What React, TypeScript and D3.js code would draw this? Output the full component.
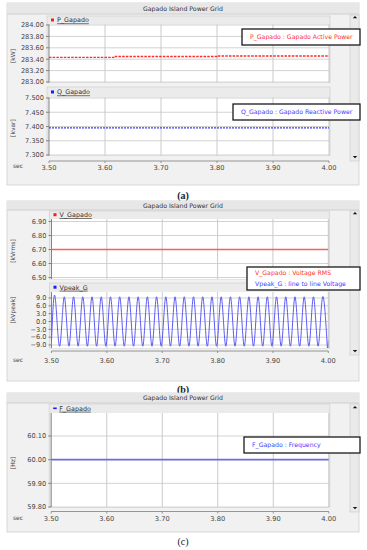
import React from "react";
import * as d3 from "d3";

// shared time axis
const timeTicks = [3.5, 3.6, 3.7, 3.8, 3.9, 4.0];

// (a) active power, kW
const pTime = [3.5, 3.617, 3.8, 4.0];
const pValues = [283.432, 283.447, 283.456, 283.456];
const pTicks = [283.0, 283.2, 283.4, 283.6, 283.8, 284.0];

// (a) reactive power, kvar
const qTime = [3.5, 4.0];
const qValues = [7.395, 7.395];
const qTicks = [7.3, 7.35, 7.4, 7.45, 7.5];

// (b) RMS voltage, kVrms
const vTime = [3.5, 4.0];
const vValues = [6.7, 6.7];
const vTicks = [6.5, 6.6, 6.7, 6.8, 6.9];

// (b) line to line voltage, kVpeak: value at the edges plus every peak / trough
const vpeakStartValue = -7.3;
const vpeakEndValue = -7.3;
const vpeakFirstPeak = 3.5065;
const vpeakHalfPeriod = 1 / 120;
const vpeakExtrema = [
  9.46, -9.46, 9.46, -9.46, 9.46, -9.46, 9.46, -9.46, 9.46, -9.46,
  9.46, -9.46, 9.46, -9.46, 9.46, -9.46, 9.46, -9.46, 9.46, -9.46,
  9.46, -9.46, 9.46, -9.46, 9.46, -9.46, 9.46, -9.46, 9.46, -9.46,
  9.46, -9.46, 9.46, -9.46, 9.46, -9.46, 9.46, -9.46, 9.46, -9.46,
  9.46, -9.46, 9.46, -9.46, 9.46, -9.46, 9.46, -9.46, 9.46, -9.46,
  9.46, -9.46, 9.46, -9.46, 9.46, -9.46, 9.46, -9.46, 9.46, -9.46,
];
const vpeakTicks = [-9, -6, -3, 0, 3, 6, 9];

// (c) frequency, Hz
const fTime = [3.5, 4.0];
const fValues = [60.0, 60.0];
const fTicks = [59.8, 59.9, 60.0, 60.1];

const FONT = "DejaVu Sans, Verdana, sans-serif";
const RED = "#ff2a2a";
const BLUE = "#3a3aff";

type Pt = [number, number];
type Series = { pts: Pt[]; color: string; width: number; dash?: string; curve?: d3.CurveFactory };

const zip = (t: number[], v: number[]): Pt[] => t.map((d, i) => [d, v[i]]);

function Subplot(props: {
  x: d3.ScaleLinear<number, number>;
  y: d3.ScaleLinear<number, number>;
  headerTop: number;
  top: number;
  bottom: number;
  ticks: number[];
  fmt: string;
  series: Series[];
  label: string;
  labelColor: string;
  ylabel: string;
  ylabelY: number;
  dashMark?: boolean;
}) {
  const { x, y, headerTop, top, bottom, ticks, fmt, series, label, labelColor, ylabel, ylabelY } = props;
  const [x0, x1] = x.range();
  const f = d3.format(fmt);
  const line = (s: Series) =>
    d3
      .line<Pt>()
      .x((d) => x(d[0]))
      .y((d) => y(d[1]))
      .curve(s.curve ?? d3.curveStepAfter)(s.pts) ?? "";
  const clipId = "clip" + Math.round(top);
  return (
    <g>
      <rect x={x0 - 2} y={headerTop} width={x1 - x0 + 3} height={bottom - headerTop} fill="#ebebeb" stroke="#d2d2d2" strokeWidth={0.8} />
      <rect x={x0} y={top} width={x1 - x0} height={bottom - top} fill="#ffffff" />
      <clipPath id={clipId}>
        <rect x={x0} y={top} width={x1 - x0} height={bottom - top} />
      </clipPath>
      {timeTicks.slice(1, -1).map((t) => (
        <line key={t} x1={x(t)} x2={x(t)} y1={top} y2={bottom} stroke="#bdbdbd" strokeWidth={0.8} />
      ))}
      {ticks.map((v) => (
        <line key={v} x1={x0} x2={x1} y1={y(v)} y2={y(v)} stroke="#c6c6c6" strokeWidth={0.8} />
      ))}
      <line x1={x1} x2={x1} y1={top} y2={bottom} stroke="#bdbdbd" strokeWidth={0.8} />
      <line x1={x0} x2={x0} y1={top} y2={bottom} stroke="#777" strokeWidth={0.9} />
      {ticks.map((v) => (
        <g key={"t" + v}>
          <line x1={x0 - 3} x2={x0} y1={y(v)} y2={y(v)} stroke="#777" strokeWidth={0.9} />
          <text x={x0 - 5} y={y(v)} dy="0.35em" textAnchor="end" fontSize={6.6} fill="#444" fontFamily={FONT}>
            {f(v)}
          </text>
        </g>
      ))}
      <g clipPath={`url(#${clipId})`}>
        {series.map((s, i) => (
          <path key={i} d={line(s)} fill="none" stroke={s.color} strokeWidth={s.width} strokeDasharray={s.dash} />
        ))}
      </g>
      {props.dashMark ? (
        <rect x={x0 + 2} y={(headerTop + top) / 2 - 1} width={3.5} height={1.6} fill={labelColor} />
      ) : (
        <rect x={x0 + 2} y={(headerTop + top) / 2 - 1.8} width={3} height={3} fill={labelColor} />
      )}
      <text x={x0 + 8} y={(headerTop + top) / 2} dy="0.35em" fontSize={6.4} fill="#333" fontFamily={FONT} style={{ textDecoration: "underline" }}>
        {label}
      </text>
      <text transform={`translate(13,${ylabelY}) rotate(-90)`} textAnchor="middle" dy="0.35em" fontSize={6} fill="#444" fontFamily={FONT}>
        {ylabel}
      </text>
    </g>
  );
}

function Panel(props: {
  top: number;
  bottom: number;
  titleBottom: number;
  axisY: number;
  labelY: number;
  upY: number;
  downY: number;
  x: d3.ScaleLinear<number, number>;
  children?: React.ReactNode;
}) {
  const { top, bottom, titleBottom, axisY, labelY, upY, downY, x } = props;
  const [x0, x1] = x.range();
  return (
    <g>
      <rect x={7} y={top} width={352} height={bottom - top} fill="#f1f1f1" stroke="#cfcfcf" strokeWidth={0.8} />
      <rect x={7} y={top} width={352} height={titleBottom - top} fill="#e7e7e7" />
      <line x1={7} x2={359} y1={titleBottom} y2={titleBottom} stroke="#c9c9c9" strokeWidth={0.8} />
      <text x={183} y={(top + titleBottom) / 2} dy="0.35em" textAnchor="middle" fontSize={6.2} fill="#333" fontFamily={FONT}>
        Gapado Island Power Grid
      </text>
      <rect x={350} y={titleBottom + 1} width={9} height={downY + 4 - titleBottom - 1} fill="#eaeaea" stroke="#cdcdcd" strokeWidth={0.7} />
      <path d={`M${352.8},${upY + 1.2} L${355},${upY - 1} L${357.2},${upY + 1.2} Z`} fill="#111" />
      <path d={`M${352.8},${downY - 1} L${355},${downY + 1.2} L${357.2},${downY - 1} Z`} fill="#111" />
      {props.children}
      <line x1={x0} x2={x1} y1={axisY} y2={axisY} stroke="#8a8a8a" strokeWidth={0.9} />
      {timeTicks.map((t) => (
        <g key={t}>
          <line x1={x(t)} x2={x(t)} y1={axisY} y2={axisY + 2} stroke="#8a8a8a" strokeWidth={0.9} />
          <text x={x(t)} y={labelY} dy="0.35em" textAnchor="middle" fontSize={6.7} fill="#444" fontFamily={FONT}>
            {d3.format(".2f")(t)}
          </text>
        </g>
      ))}
      <text x={18} y={labelY - 1.5} dy="0.35em" textAnchor="middle" fontSize={6} fill="#444" fontFamily={FONT}>
        sec
      </text>
    </g>
  );
}

function LegendBox(props: { x: number; y: number; w: number; h: number; lines: { text: string; color: string }[] }) {
  const { x, y, w, h, lines } = props;
  const step = h / lines.length;
  return (
    <g>
      <rect x={x} y={y} width={w} height={h} fill="#fff" stroke="#1a1a1a" strokeWidth={1.3} />
      {lines.map((l, i) => (
        <text key={i} x={x + 8} y={y + step * (i + 0.5)} dy="0.35em" fontSize={6.2} fill={l.color} fontFamily={FONT}>
          {l.text}
        </text>
      ))}
    </g>
  );
}

export default function App() {
  const xa = d3.scaleLinear().domain([3.5, 4.0]).range([49, 329]);
  const xb = d3.scaleLinear().domain([3.5, 4.0]).range([51.5, 328.3]);
  const xc = d3.scaleLinear().domain([3.5, 4.0]).range([51.2, 328.8]);

  const yP = d3.scaleLinear().domain([283.0, 284.0]).range([82, 25]);
  const yQ = d3.scaleLinear().domain([7.3, 7.5]).range([155, 98]);
  const yV = d3.scaleLinear().domain([6.5, 6.9]).range([277.5, 221.5]);
  const yVp = d3.scaleLinear().domain([-9, 9]).range([345, 298]);
  const yF = d3.scaleLinear().domain([59.8, 60.1]).range([507, 436]);

  const vpeakPts: Pt[] = [
    [3.5, vpeakStartValue],
    ...vpeakExtrema.map((v, i): Pt => [vpeakFirstPeak + i * vpeakHalfPeriod, v]),
    [4.0, vpeakEndValue],
  ];

  return (
    <svg width={367} height={550} style={{ position: "absolute", left: 0, top: 0, background: "#fff" }}>
      {/* (a) */}
      <Panel top={3} bottom={185} titleBottom={14} axisY={161} labelY={167.5} upY={17} downY={157} x={xa}>
        <Subplot x={xa} y={yP} headerTop={16} top={24.5} bottom={82.5} ticks={pTicks} fmt=".2f"
          series={[{ pts: zip(pTime, pValues), color: RED, width: 1.3, dash: "2.5 1.2" }]}
          label="P_Gapado" labelColor="#ff1a1a" ylabel="[kW]" ylabelY={56} />
        <Subplot x={xa} y={yQ} headerTop={87} top={97.5} bottom={155.5} ticks={qTicks} fmt=".3f"
          series={[{ pts: zip(qTime, qValues), color: BLUE, width: 1.3, dash: "2 1" }]}
          label="Q_Gapado" labelColor="#1a1aff" ylabel="[kvar]" ylabelY={128} />
      </Panel>
      <LegendBox x={242} y={29} w={118} h={16} lines={[{ text: "P_Gapado : Gapado Active Power", color: "#ff3030" }]} />
      <LegendBox x={233} y={104} w={127} h={16} lines={[{ text: "Q_Gapado : Gapado Reactive Power", color: "#4040ff" }]} />
      <text x={183} y={195} dy="0.35em" textAnchor="middle" fontSize={10} fontWeight="bold" fill="#222" fontFamily="Liberation Serif, serif">
        (a)
      </text>

      {/* (b) */}
      <Panel top={201} bottom={381} titleBottom={210} axisY={351} labelY={361} upY={213} downY={351} x={xb}>
        <Subplot x={xb} y={yV} headerTop={211} top={219} bottom={279} ticks={vTicks} fmt=".2f"
          series={[{ pts: zip(vTime, vValues), color: "#f06262", width: 1.6 }]}
          label="V_Gapado" labelColor="#ff1a1a" ylabel="[kVrms]" ylabelY={251} />
        <Subplot x={xb} y={yVp} headerTop={283} top={292} bottom={348} ticks={vpeakTicks} fmt=".1f"
          series={[{ pts: vpeakPts, color: "#4848f2", width: 0.9, curve: d3.curveNatural }]}
          label="Vpeak_G" labelColor="#1a1aff" ylabel="[kVpeak]" ylabelY={310} />
      </Panel>
      <LegendBox x={247} y={267} w={113} h={23} lines={[
        { text: "V_Gapado : Voltage RMS", color: "#ff3030" },
        { text: "Vpeak_G : line to line Voltage", color: "#4040ff" },
      ]} />
      <text x={183} y={389} dy="0.35em" textAnchor="middle" fontSize={10} fontWeight="bold" fill="#222" fontFamily="Liberation Serif, serif">
        (b)
      </text>

      {/* (c) */}
      <Panel top={393} bottom={532} titleBottom={403} axisY={511.5} labelY={519} upY={407} downY={508} x={xc}>
        <Subplot x={xc} y={yF} headerTop={404} top={413} bottom={507} ticks={fTicks} fmt=".2f"
          series={[{ pts: zip(fTime, fValues), color: "#6c6cdc", width: 1.6 }]}
          label="F_Gapado" labelColor="#1a1aff" ylabel="[Hz]" ylabelY={463} dashMark />
      </Panel>
      <LegendBox x={244} y={437} w={116} h={16} lines={[{ text: "F_Gapado : Frequency", color: "#4040ff" }]} />
      <text x={183} y={541} dy="0.35em" textAnchor="middle" fontSize={10} fill="#222" fontFamily="Liberation Serif, serif">
        (c)
      </text>
    </svg>
  );
}
